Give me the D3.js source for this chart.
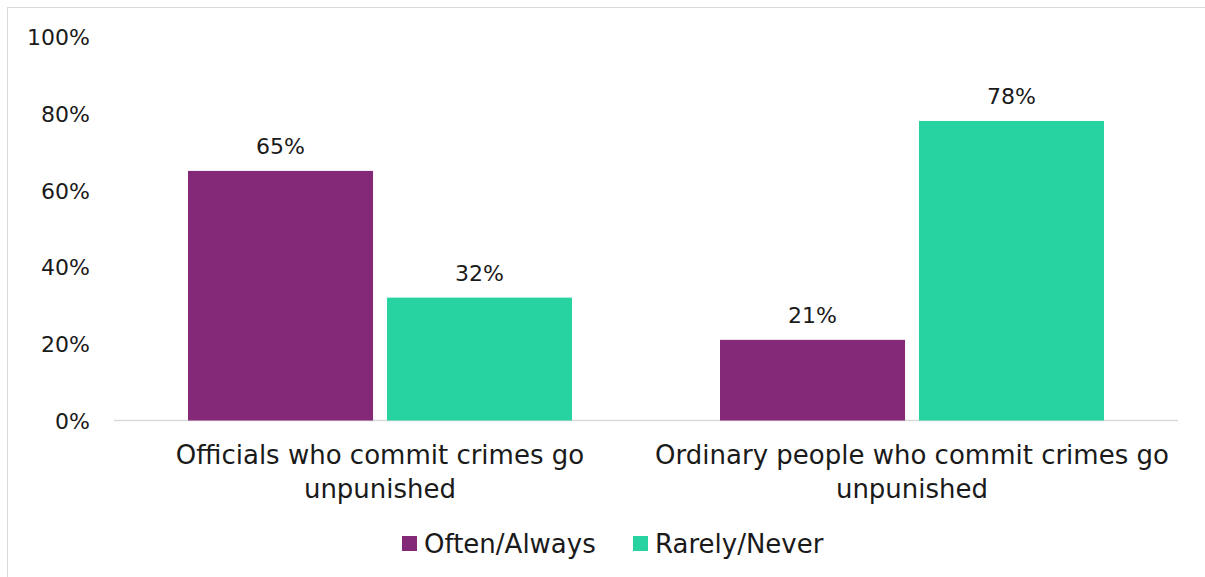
<!DOCTYPE html>
<html>
<head>
<meta charset="utf-8">
<script src="https://cdn.jsdelivr.net/npm/d3@7"></script>
<style>
  html, body { margin: 0; padding: 0; background: #fff; }
  svg text { font-family: "DejaVu Sans", sans-serif; fill: #1a1a1a; }
</style>
</head>
<body>
<svg id="chart" width="1205" height="577"></svg>
<script>
// Survey responses: how often people who commit crimes go unpunished
const categories = [
  ["Officials who commit crimes go", "unpunished"],
  ["Ordinary people who commit crimes go", "unpunished"]
];
const seriesNames = ["Often/Always", "Rarely/Never"];
const oftenAlways = [65, 21];
const rarelyNever = [32, 78];
const yTicks = [0, 20, 40, 60, 80, 100];
const colors = ["#842878", "#26d3a1"];

const svg = d3.select("#chart");
const W = 1205, H = 577;

// outer frame
svg.append("rect")
  .attr("x", 7.5).attr("y", 7.5)
  .attr("width", W - 7).attr("height", H - 1)
  .attr("fill", "none").attr("stroke", "#d9d9d9").attr("stroke-width", 1);

const plot = { left: 114, right: 1178, top: 36.5, bottom: 420.5 };

const x0 = d3.scaleBand()
  .domain(d3.range(categories.length))
  .range([plot.left, plot.right])
  .paddingInner(0)
  .paddingOuter(0);

const x1 = d3.scaleBand()
  .domain(d3.range(seriesNames.length))
  .range([74, x0.bandwidth() - 74])
  .paddingInner(0.07);

const y = d3.scaleLinear().domain([0, 100]).range([plot.bottom, plot.top]);

// y axis labels
const yAxis = d3.axisLeft(y)
  .tickValues(yTicks)
  .tickFormat(d => d + "%")
  .tickSize(0)
  .tickPadding(0);
const yg = svg.append("g").attr("transform", "translate(90,0)").call(yAxis);
yg.select(".domain").remove();
yg.selectAll("text")
  .attr("font-family", null)
  .style("font-size", "22px")
  .attr("dy", "0.36em");

// baseline
svg.append("line")
  .attr("x1", plot.left).attr("x2", plot.right)
  .attr("y1", y(0)).attr("y2", y(0))
  .attr("stroke", "#d9d9d9").attr("stroke-width", 1.5);

const series = [oftenAlways, rarelyNever];
const bars = [];
series.forEach((vals, si) => {
  vals.forEach((v, ci) => bars.push({ si, ci, v }));
});

const g = svg.append("g");
g.selectAll("rect.bar").data(bars).join("rect")
  .attr("class", "bar")
  .attr("x", d => x0(d.ci) + x1(d.si))
  .attr("width", x1.bandwidth())
  .attr("y", d => y(d.v))
  .attr("height", d => y(0) - y(d.v))
  .attr("fill", d => colors[d.si]);

g.selectAll("text.val").data(bars).join("text")
  .attr("class", "val")
  .attr("x", d => x0(d.ci) + x1(d.si) + x1.bandwidth() / 2)
  .attr("y", d => y(d.v) - 17)
  .attr("text-anchor", "middle")
  .style("font-size", "22px")
  .text(d => d.v + "%");

// category labels
const cat = svg.append("g").selectAll("text").data(categories).join("text")
  .attr("x", (d, i) => x0(i) + x0.bandwidth() / 2)
  .attr("y", 464)
  .attr("text-anchor", "middle")
  .style("font-size", "26px");
cat.selectAll("tspan").data(d => d).join("tspan")
  .attr("x", function () { return d3.select(this.parentNode).attr("x"); })
  .attr("dy", (d, i) => i === 0 ? 0 : 34)
  .text(d => d);

// legend
const legendItems = [
  { name: seriesNames[0], color: colors[0], x: 402 },
  { name: seriesNames[1], color: colors[1], x: 633 }
];
const lg = svg.append("g").selectAll("g").data(legendItems).join("g")
  .attr("transform", d => `translate(${d.x},536)`);
lg.append("rect").attr("width", 15).attr("height", 15).attr("fill", d => d.color);
lg.append("text").attr("x", 22).attr("y", 17)
  .style("font-size", "26px")
  .text(d => d.name);
</script>
</body>
</html>
